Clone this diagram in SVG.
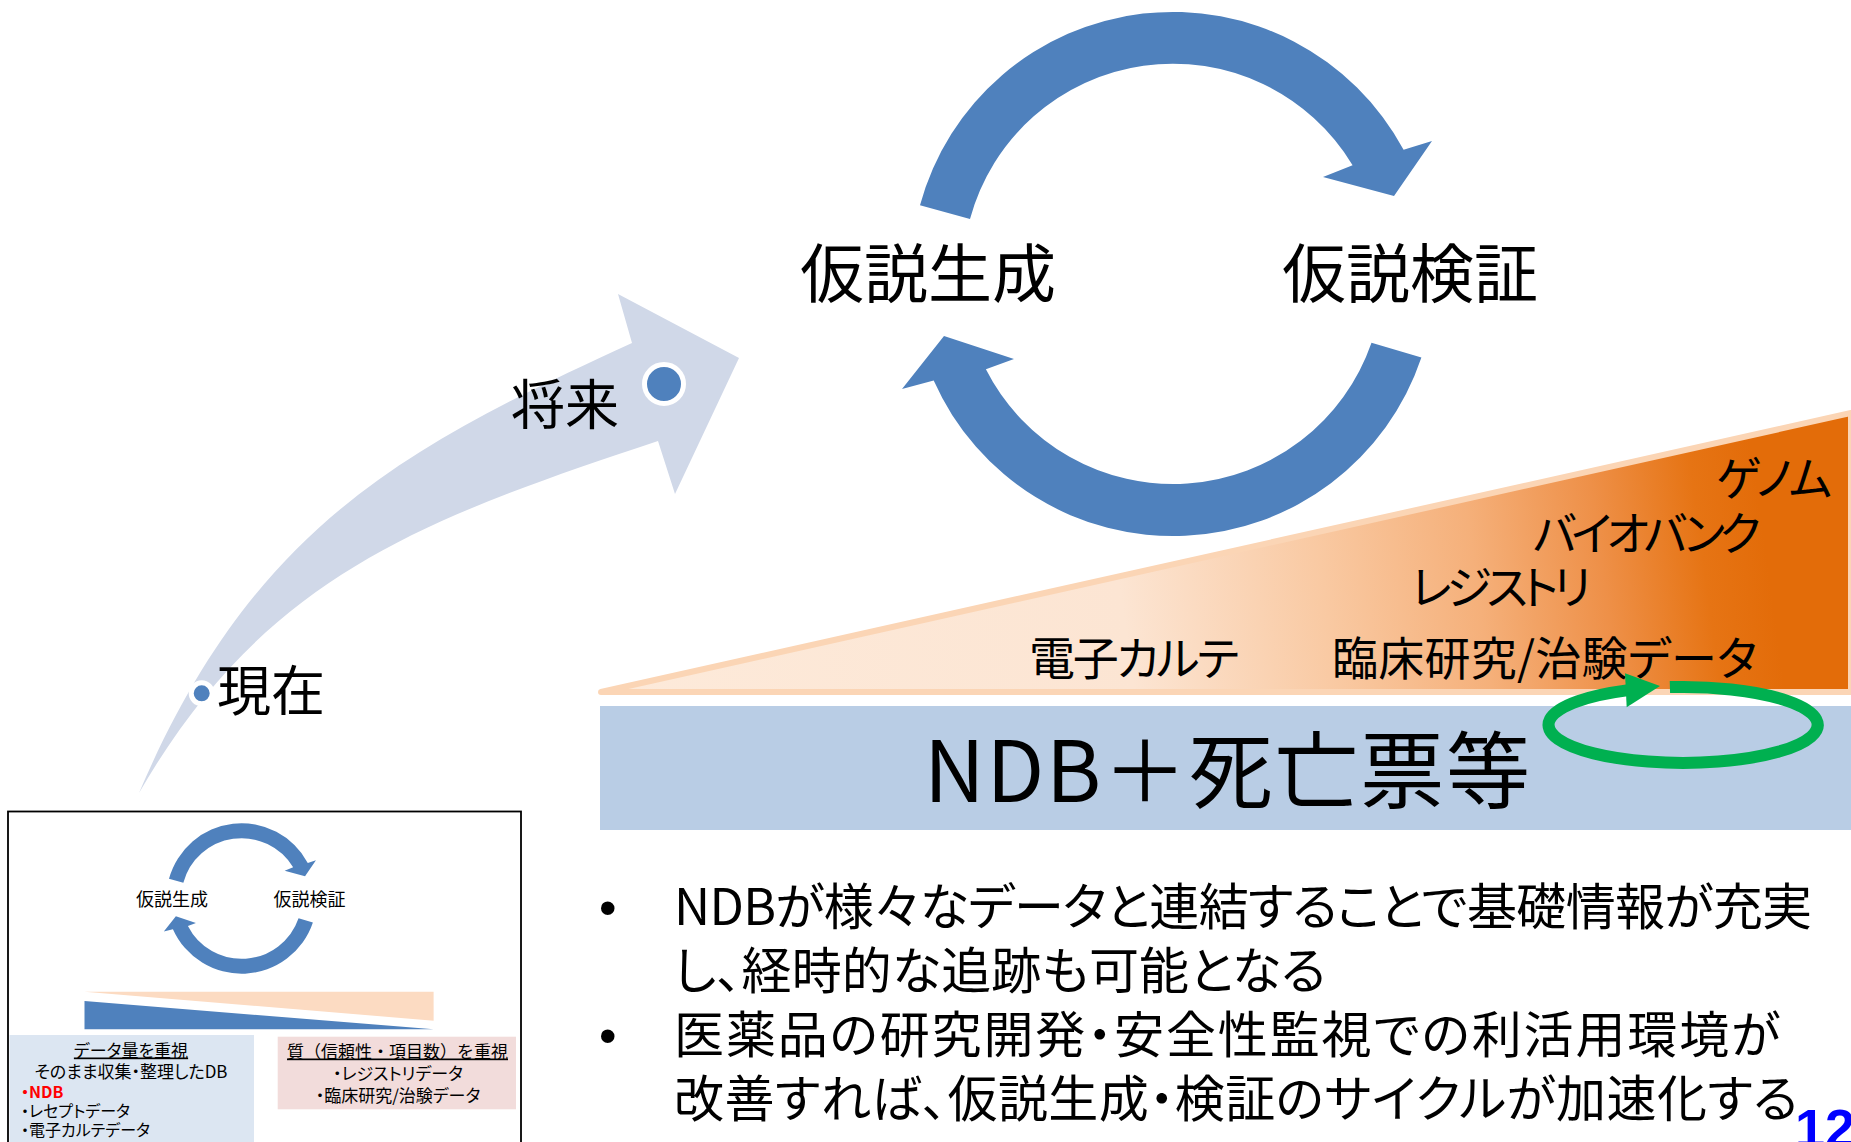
<svg xmlns="http://www.w3.org/2000/svg" xmlns:xlink="http://www.w3.org/1999/xlink" width="1851" height="1142" viewBox="0 0 1851 1142">
<style>
  .jp { font-family: "Noto Sans CJK JP", "Noto Sans", sans-serif; fill: #000; font-feature-settings: "palt" 1; }
  .fw { font-feature-settings: normal; }
  .lat { font-family: "Liberation Sans", Arial, sans-serif; }
  .cyc { fill: #4F81BD; }
  .ul { text-decoration: underline; }
</style>
<defs>
  <linearGradient id="og" gradientUnits="userSpaceOnUse" x1="598" y1="693" x2="1851" y2="520">
    <stop offset="0" stop-color="#FDEADA"/>
    <stop offset="0.42" stop-color="#FCE5D3"/>
    <stop offset="0.58" stop-color="#F9C9A2"/>
    <stop offset="0.70" stop-color="#F5B07A"/>
    <stop offset="0.80" stop-color="#EE9048"/>
    <stop offset="0.88" stop-color="#E67414"/>
    <stop offset="0.93" stop-color="#E36C09"/>
    <stop offset="1" stop-color="#E36C09"/>
  </linearGradient>
  <g id="cycle">
    <path class="cyc" d="M 920 205.3 A 262 262 0 0 1 1403.6 149.8 L 1432 141 L 1394 196 L 1323 177 L 1352.6 165.2 A 210 210 0 0 0 970 219 Z"/>
    <path class="cyc" d="M 1421.4 357.6 A 262 262 0 0 1 933.7 380.6 L 902 389 L 944 336 L 1014 359 L 985.9 369.3 A 210 210 0 0 0 1371.5 342.7 Z"/>
  </g>
</defs>

<rect x="0" y="0" width="1851" height="1142" fill="#FFFFFF"/>

<!-- timeline arrow -->
<g id="timeline-arrow">
  <path d="M 139 793 C 253 526 405 447 632 343 L 618 294 L 739 358 L 675 494 L 658 441 C 420.75 520 264 576.5 139 793 Z" fill="#D0D8E8"/>
</g>
<g id="node-genzai">
  <circle cx="201.7" cy="693.3" r="10.5" fill="#4F81BD" stroke="#FFFFFF" stroke-width="5"/>
  <text class="jp" x="217" y="711" font-size="54">現在</text>
</g>
<g id="node-shourai">
  <circle cx="664" cy="384" r="19.5" fill="#4F81BD" stroke="#FFFFFF" stroke-width="5"/>
  <text class="jp" x="511" y="424.5" font-size="54">将来</text>
</g>

<!-- main cycle -->
<g id="main-cycle">
  <use xlink:href="#cycle" href="#cycle"/>
</g>
<g id="node-kasetsu-seisei">
  <text class="jp" x="800" y="297" font-size="64">仮説生成</text>
</g>
<g id="node-kasetsu-kensho">
  <text class="jp" x="1282" y="297" font-size="64">仮説検証</text>
</g>

<!-- data wedge -->
<g id="data-wedge">
  <path d="M 601 692 L 1851 413 L 1851 692 Z" fill="url(#og)" stroke="#FBD5B5" stroke-width="6" stroke-linejoin="round"/>
  <text class="jp" x="1029" y="675" font-size="46" textLength="210">電子カルテ</text>
  <text class="jp" x="1332" y="675" font-size="46" textLength="425">臨床研究/治験データ</text>
  <text class="jp" x="1411" y="604" font-size="46" textLength="180">レジストリ</text>
  <text class="jp" x="1533" y="550" font-size="46" textLength="228">バイオバンク</text>
  <text class="jp" x="1716" y="495" font-size="46" textLength="116">ゲノム</text>
</g>

<!-- NDB band -->
<g id="ndb-band">
  <rect x="600" y="706" width="1251" height="124" fill="#B9CDE5"/>
  <text class="jp" x="924" y="802" font-size="84" textLength="606">NDB＋死亡票等</text>
</g>

<!-- green loop -->
<g id="connectors">
  <path d="M 1669.9 687.1 A 134.6 38 0 1 1 1626.8 690.4" fill="none" stroke="#00B050" stroke-width="12"/>
  <polygon points="1625,673.3 1660,686 1626.7,707.3" fill="#00B050"/>
</g>

<!-- bullets -->
<g id="bullets">
  <text class="lat" x="599" y="925" font-size="50">•</text>
  <text class="jp" x="674" y="925" font-size="50" textLength="1138">NDBが様々なデータと連結することで基礎情報が充実</text>
  <text class="jp" x="674" y="989" font-size="50" textLength="652">し、経時的な追跡も可能となる</text>
  <text class="lat" x="599" y="1053" font-size="50">•</text>
  <text class="jp" x="674" y="1053" font-size="50" textLength="1106">医薬品の研究開発・安全性監視での利活用環境が</text>
  <text class="jp" x="674" y="1117" font-size="50" textLength="1124">改善すれば、仮説生成・検証のサイクルが加速化する</text>
</g>

<!-- page number -->
<text class="lat" x="1795" y="1147" font-size="54" font-weight="bold" fill="#0000FF">12</text>

<!-- inset thumbnail -->
<g id="inset">
  <rect x="8" y="811.5" width="513" height="400" fill="#FFFFFF" stroke="#000000" stroke-width="1.8"/>
  <g id="inset-cycle">
    <use xlink:href="#cycle" href="#cycle" transform="translate(-95.05 819.9) scale(0.287)"/>
  </g>
  <text class="jp" x="136" y="905.5" font-size="18">仮説生成</text>
  <text class="jp" x="273.5" y="905.5" font-size="18">仮説検証</text>
  <polygon points="84.5,991.7 433.6,991.7 433.6,1020.7" fill="#FCDBC2"/>
  <polygon points="84.5,1001 433.6,1029.3 84.5,1029.3" fill="#4F81BD"/>
  <g id="inset-quantity">
    <rect x="9.5" y="1035" width="244.5" height="107" fill="#DCE6F2"/>
    <text class="jp ul" x="131" y="1056.5" font-size="17" text-anchor="middle">データ量を重視</text>
    <text class="jp" x="131" y="1078" font-size="17" text-anchor="middle" textLength="193">そのまま収集・整理したDB</text>
    <text class="jp" x="21" y="1098" font-size="16" font-weight="bold" style="fill:#FF0000">・NDB</text>
    <text class="jp" x="21" y="1116.5" font-size="16">・レセプトデータ</text>
    <text class="jp" x="21" y="1135.5" font-size="16">・電子カルテデータ</text>
  </g>
  <g id="inset-quality">
    <rect x="277.7" y="1036.7" width="238.3" height="72.6" fill="#F2DCDB"/>
    <text class="jp fw ul" x="397.5" y="1057.5" font-size="17" text-anchor="middle">質（信頼性・項目数）を重視</text>
    <text class="jp" x="398" y="1080" font-size="17" text-anchor="middle">・レジストリデータ</text>
    <text class="jp" x="398" y="1101.5" font-size="17" text-anchor="middle">・臨床研究/治験データ</text>
  </g>
</g>
</svg>
